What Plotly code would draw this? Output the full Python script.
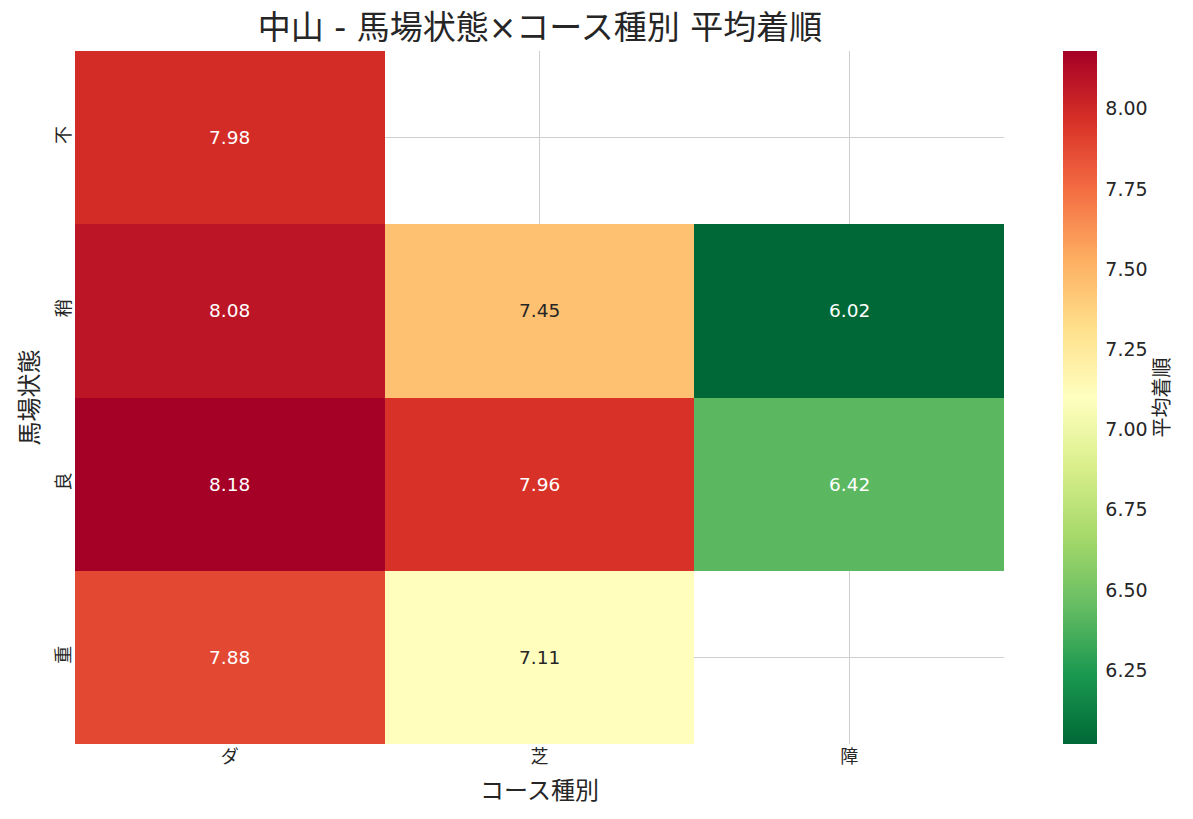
import plotly.graph_objects as go
from plotly.colors import sample_colorscale, unlabel_rgb

# data
course_types = ["ダ", "芝", "障"]
track_states = ["不", "稍", "良", "重"]
avg_finish = [
    [7.98, None, None],
    [8.08, 7.45, 6.02],
    [8.18, 7.96, 6.42],
    [7.88, 7.11, None],
]

zmin, zmax = 6.02, 8.18
font_family = "DejaVu Sans, Noto Sans CJK JP, sans-serif"
text_dark = "#262626"

# page has an 8px body margin, so the figure is 16px smaller than the window
W, H = 1177, 803
ML, MR, MT, MB = 67, 180, 43, 67


def text_color(v):
    # seaborn-style contrast: white text on dark cells
    c = sample_colorscale("RdYlGn_r", [(v - zmin) / (zmax - zmin)])[0]
    r, g, b = [x / 255 for x in unlabel_rgb(c)]
    lin = [x / 12.92 if x <= 0.03928 else ((x + 0.055) / 1.055) ** 2.4 for x in (r, g, b)]
    lum = 0.2126 * lin[0] + 0.7152 * lin[1] + 0.0722 * lin[2]
    return "white" if lum < 0.408 else text_dark


fig = go.Figure()

fig.add_trace(go.Heatmap(
    z=avg_finish,
    x=course_types,
    y=track_states,
    colorscale="RdYlGn_r",
    zmin=zmin,
    zmax=zmax,
    hoverongaps=False,
    colorbar=dict(
        title=dict(text="平均着順", side="right", font=dict(size=20, family=font_family, color=text_dark)),
        thickness=34,
        len=1,
        lenmode="fraction",
        x=(1063 - 75) / 930,
        xanchor="left",
        xpad=0,
        y=0.5,
        yanchor="middle",
        ypad=0,
        outlinewidth=0,
        tickmode="linear",
        tick0=6.25,
        dtick=0.25,
        tickformat=".2f",
        ticks="outside",
        ticklen=5,
        tickcolor="rgba(0,0,0,0)",
        tickfont=dict(size=19, family=font_family, color=text_dark),
    ),
))

annotations = []
for i, state in enumerate(track_states):
    for j, course in enumerate(course_types):
        v = avg_finish[i][j]
        if v is None:
            continue
        annotations.append(dict(
            x=course, y=state, text=f"{v:.2f}", showarrow=False,
            font=dict(size=18.5, family=font_family, color=text_color(v)),
        ))

fig.update_layout(
    width=W,
    height=H,
    margin=dict(l=ML, r=MR, t=MT, b=MB),
    paper_bgcolor="white",
    plot_bgcolor="white",
    font=dict(family=font_family, color=text_dark),
    title=dict(
        text="中山 - 馬場状態×コース種別 平均着順",
        x=(ML + 465) / W,
        xanchor="center",
        y=1 - 19 / H,
        yanchor="middle",
        font=dict(size=33, family=font_family, color=text_dark),
    ),
    annotations=annotations,
    xaxis=dict(
        title=dict(text="コース種別", font=dict(size=24), standoff=16),
        showgrid=True,
        gridcolor="#cfcfcf",
        gridwidth=1.2,
        ticks="",
        tickfont=dict(size=18),
        showline=False,
        zeroline=False,
    ),
    yaxis=dict(
        title=dict(text="馬場状態", font=dict(size=24), standoff=8),
        autorange="reversed",
        showgrid=True,
        gridcolor="#cfcfcf",
        gridwidth=1.2,
        ticks="",
        tickangle=-90,
        tickfont=dict(size=18),
        showline=False,
        zeroline=False,
    ),
)

fig.write_html("out.html")
